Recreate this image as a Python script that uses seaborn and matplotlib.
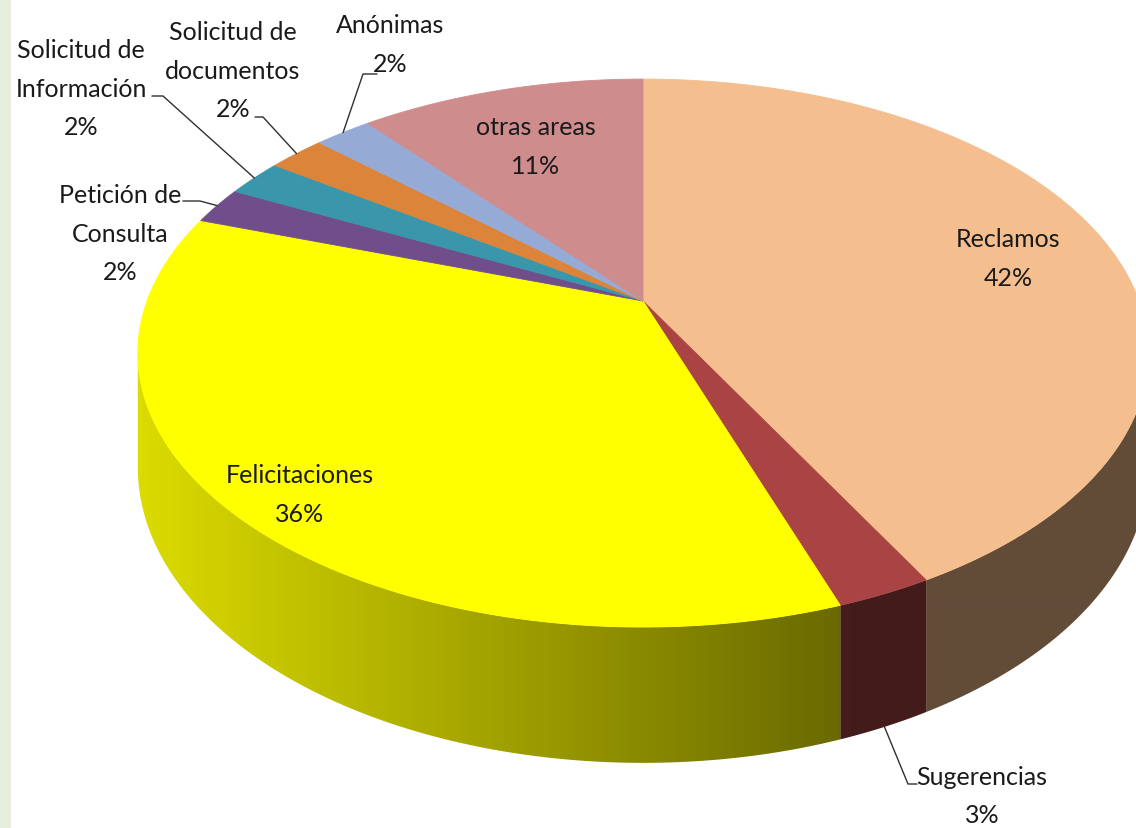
import numpy as np
import matplotlib
matplotlib.use("Agg")
import matplotlib.pyplot as plt
from matplotlib.patches import Polygon, Rectangle
from matplotlib.colors import to_rgb
import seaborn as sns

# ---------------- data ----------------
categories = ["Reclamos", "Sugerencias", "Felicitaciones", "Petición de\nConsulta",
              "Solicitud de\nInformación", "Solicitud de\ndocumentos", "Anónimas", "otras areas"]
values = [42.2, 2.6, 35.6, 2.2, 2.2, 2.2, 2.2, 11.0]
colors = ["#F5BE8E", "#AA4444", "#FFFF00", "#704E8C", "#3A97AB", "#DB843A", "#96AAD6", "#CF8C8C"]

# ---------------- layout ----------------
# label anchor: (center x, first baseline y) in pixels
label_pos = [(1008, 247), (982, 785), (300, 483), (120, 203), (81, 58), (233, 40), (390, 33), (536, 135)]
# leader line pieces (text side) for labels placed outside the pie
leaders = {1: [(917, 785), (908, 785)], 3: [(183, 202), (200, 202)],
           4: [(152, 97), (163, 97)], 5: [(255, 118), (263, 118)], 6: [(377, 75), (363, 75)]}
LINE_STEP = 38.5

sns.set_theme(style="white")
plt.rcParams["font.family"] = ["Lato", "DejaVu Sans"]

W, Hpx = 1136, 829
fig = plt.figure(figsize=(W / 100, Hpx / 100), dpi=100)
ax = fig.add_axes([0, 0, 1, 1])
ax.set_xlim(0, W)
ax.set_ylim(Hpx, 0)
ax.axis("off")
fig.patch.set_facecolor("white")

ax.add_patch(Rectangle((0, 0), 11, Hpx, facecolor="#E7EEE0", edgecolor="none", zorder=0))

# perspective projection of the pie disc
CX, CY, SX, TY, K, DEPTH = 643, 302, 496, 264.1, 0.19, 110


def proj(theta_deg, bottom=False):
    th = np.radians(np.asarray(theta_deg, dtype=float))
    X, Y = np.sin(th), np.cos(th)
    d = 1 + K * Y
    x = CX + SX * X / d
    y = CY - TY * Y / d
    if bottom:
        y = y + DEPTH / d
    return x, y


xs_img = np.arange(W) + 0.5
shade_row = np.clip(0.86 - 0.45 * (xs_img - 140) / 705, 0.40, 0.9)

total = sum(values)
bounds = np.concatenate([[0], np.cumsum(values) / total * 360])

# visible (front) side walls, between the two silhouette angles
s1 = np.degrees(np.arccos(-K))
s2 = 360 - s1
for i, c in enumerate(colors):
    lo, hi = max(bounds[i], s1), min(bounds[i + 1], s2)
    if hi <= lo:
        continue
    ts = np.linspace(lo, hi, max(2, int((hi - lo) / 0.25) + 2))
    tx, ty = proj(ts)
    bx, by = proj(ts[::-1], bottom=True)
    pts = np.column_stack([np.concatenate([tx, bx]), np.concatenate([ty, by])])
    poly = Polygon(pts, closed=True, facecolor="none", edgecolor="none")
    ax.add_patch(poly)
    base = np.array(to_rgb(c))
    img = np.clip(shade_row[None, :, None] * base[None, None, :], 0, 1)
    im = ax.imshow(img, extent=(0, W, Hpx, 0), aspect="auto", interpolation="bilinear", zorder=2)
    im.set_clip_path(poly)
    ax.add_patch(Polygon(pts, closed=True, facecolor="none",
                         edgecolor=tuple(base * 0.4), lw=0.0, zorder=2))

ax.set_xlim(0, W)
ax.set_ylim(Hpx, 0)

# top faces
for i, c in enumerate(colors):
    a0, a1 = bounds[i], bounds[i + 1]
    ts = np.linspace(a0, a1, max(2, int((a1 - a0) / 0.5) + 2))
    tx, ty = proj(ts)
    pts = np.column_stack([np.concatenate([[CX], tx]), np.concatenate([[CY], ty])])
    ax.add_patch(Polygon(pts, closed=True, facecolor=c, edgecolor=c, lw=0.6, zorder=3))

# labels
pcts = [f"{round(v / total * 100):.0f}%" for v in values]
for i, (name, pct) in enumerate(zip(categories, pcts)):
    lines = name.split("\n") + [pct]
    x0, y0 = label_pos[i]
    for k, ln in enumerate(lines):
        ax.text(x0, y0 + k * LINE_STEP, ln, ha="center", va="baseline",
                fontsize=18, color="#1A1A1A", zorder=5)

# leader lines
for i, pts in leaders.items():
    mid = (bounds[i] + bounds[i + 1]) / 2
    ax_, ay_ = proj(mid, bottom=(i == 1))
    xs = [p[0] for p in pts] + [float(ax_)]
    ys = [p[1] for p in pts] + [float(ay_)]
    ax.plot(xs, ys, color="#303030", lw=1.0, zorder=4)

fig.savefig("out.png", dpi=100)
